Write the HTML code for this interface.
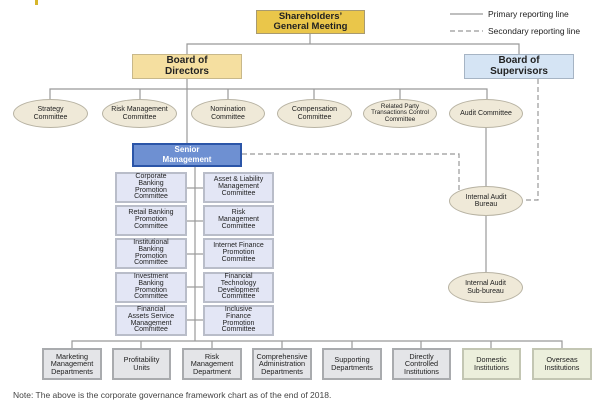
<!DOCTYPE html>
<html><head><meta charset="utf-8"><style>
body{margin:0;width:600px;height:409px;background:#fff;position:relative;overflow:hidden;font-family:"Liberation Sans",sans-serif;color:#222}
.b{position:absolute;display:flex;align-items:center;justify-content:center;text-align:center;box-sizing:border-box;line-height:1.05}
.e{border-radius:50%;background:#efe9d8;border:1px solid #b8b3a3;font-size:7px}
.c{background:#e3e6f5;border:2px solid #b9bdc9;font-size:7px;line-height:0.98}
.d{background:#e4e5e8;border:2px solid #a9abae;font-size:7.3px}
.g{background:#ecefdc;border:2px solid #c3c6b3;font-size:7.3px}
svg{position:absolute;left:0;top:0}
</style></head><body>
<div style="position:absolute;left:35px;top:0;width:3px;height:5px;background:#d6b52a"></div>
<svg width="600" height="409">
<g stroke="#999" stroke-width="1.2" fill="none">
<line x1="450" y1="14" x2="483" y2="14"/>
<line x1="310" y1="34" x2="310" y2="44"/>
<polyline points="187,54 187,44 519,44 519,54"/>
<polyline points="50,99 50,89 487,89 487,99"/>
<line x1="140" y1="89" x2="140" y2="99"/><line x1="228" y1="89" x2="228" y2="99"/>
<line x1="314" y1="89" x2="314" y2="99"/><line x1="400" y1="89" x2="400" y2="99"/>
<line x1="187" y1="79" x2="187" y2="143"/>
<line x1="486" y1="128" x2="486" y2="272"/>
<line x1="195" y1="167" x2="195" y2="341"/>
<line x1="187" y1="188" x2="203" y2="188"/><line x1="187" y1="221" x2="203" y2="221"/>
<line x1="187" y1="254" x2="203" y2="254"/><line x1="187" y1="287" x2="203" y2="287"/>
<line x1="187" y1="320" x2="203" y2="320"/>
<polyline points="72,348 72,341 562,341 562,348"/>
<line x1="141" y1="341" x2="141" y2="348"/><line x1="212" y1="341" x2="212" y2="348"/>
<line x1="282" y1="341" x2="282" y2="348"/><line x1="352" y1="341" x2="352" y2="348"/>
<line x1="421" y1="341" x2="421" y2="348"/><line x1="491" y1="341" x2="491" y2="348"/>
</g>
<g stroke="#999" stroke-width="1.2" fill="none" stroke-dasharray="5,3">
<line x1="450" y1="31" x2="483" y2="31"/>
<polyline points="242,154 459,154 459,190"/>
<polyline points="538,79 538,200 523,200"/>
</g>
</svg>
<div style="position:absolute;left:488px;top:9px;font-size:8.5px">Primary reporting line</div>
<div style="position:absolute;left:488px;top:26px;font-size:8.5px">Secondary reporting line</div>
<div class="b" style="left:256px;top:10px;width:109px;height:24px;background:#eac64a;border:1px solid #a89a70;font-weight:bold;font-size:9.5px">Shareholders’<br>General Meeting</div>
<div class="b" style="left:132px;top:54px;width:110px;height:25px;background:#f5dfa0;border:1px solid #c8b88a;font-weight:bold;font-size:10px">Board of<br>Directors</div>
<div class="b" style="left:464px;top:54px;width:110px;height:25px;background:#d5e4f4;border:1px solid #a6b4c4;font-weight:bold;font-size:10px">Board of<br>Supervisors</div>
<div class="b e" style="left:13px;top:99px;width:75px;height:29px">Strategy<br>Committee</div>
<div class="b e" style="left:102px;top:99px;width:75px;height:29px">Risk Management<br>Committee</div>
<div class="b e" style="left:191px;top:99px;width:74px;height:29px">Nomination<br>Committee</div>
<div class="b e" style="left:277px;top:99px;width:75px;height:29px">Compensation<br>Committee</div>
<div class="b e" style="left:363px;top:99px;width:74px;height:29px;font-size:6.3px">Related Party<br>Transactions Control<br>Committee</div>
<div class="b e" style="left:449px;top:99px;width:74px;height:29px">Audit Committee</div>
<div class="b" style="left:132px;top:143px;width:110px;height:24px;background:#6e90d2;border:2px solid #2b55a8;color:#fff;font-weight:bold;font-size:8px;line-height:1.3">Senior<br>Management</div>
<div class="b c" style="left:115px;top:172px;width:72px;height:31px">Corporate<br>Banking<br>Promotion<br>Committee</div>
<div class="b c" style="left:203px;top:172px;width:71px;height:31px">Asset &amp; Liability<br>Management<br>Committee</div>
<div class="b c" style="left:115px;top:205px;width:72px;height:31px">Retail Banking<br>Promotion<br>Committee</div>
<div class="b c" style="left:203px;top:205px;width:71px;height:31px">Risk<br>Management<br>Committee</div>
<div class="b c" style="left:115px;top:238px;width:72px;height:31px">Institutional<br>Banking<br>Promotion<br>Committee</div>
<div class="b c" style="left:203px;top:238px;width:71px;height:31px">Internet Finance<br>Promotion<br>Committee</div>
<div class="b c" style="left:115px;top:272px;width:72px;height:31px">Investment<br>Banking<br>Promotion<br>Committee</div>
<div class="b c" style="left:203px;top:272px;width:71px;height:31px">Financial<br>Technology<br>Development<br>Committee</div>
<div class="b c" style="left:115px;top:305px;width:72px;height:31px">Financial<br>Assets Service<br>Management<br>Committee</div>
<div class="b c" style="left:203px;top:305px;width:71px;height:31px">Inclusive<br>Finance<br>Promotion<br>Committee</div>
<div class="b e" style="left:449px;top:186px;width:74px;height:30px">Internal Audit<br>Bureau</div>
<div class="b e" style="left:448px;top:272px;width:75px;height:31px">Internal Audit<br>Sub-bureau</div>
<div class="b d" style="left:42px;top:348px;width:60px;height:32px">Marketing<br>Management<br>Departments</div>
<div class="b d" style="left:112px;top:348px;width:59px;height:32px">Profitability<br>Units</div>
<div class="b d" style="left:182px;top:348px;width:60px;height:32px">Risk<br>Management<br>Department</div>
<div class="b d" style="left:252px;top:348px;width:60px;height:32px">Comprehensive<br>Administration<br>Departments</div>
<div class="b d" style="left:322px;top:348px;width:60px;height:32px">Supporting<br>Departments</div>
<div class="b d" style="left:392px;top:348px;width:59px;height:32px">Directly<br>Controlled<br>Institutions</div>
<div class="b g" style="left:462px;top:348px;width:59px;height:32px">Domestic<br>Institutions</div>
<div class="b g" style="left:532px;top:348px;width:60px;height:32px">Overseas<br>Institutions</div>
<div style="position:absolute;left:13px;top:390px;font-size:8.5px;color:#444">Note: The above is the corporate governance framework chart as of the end of 2018.</div>
</body></html>
